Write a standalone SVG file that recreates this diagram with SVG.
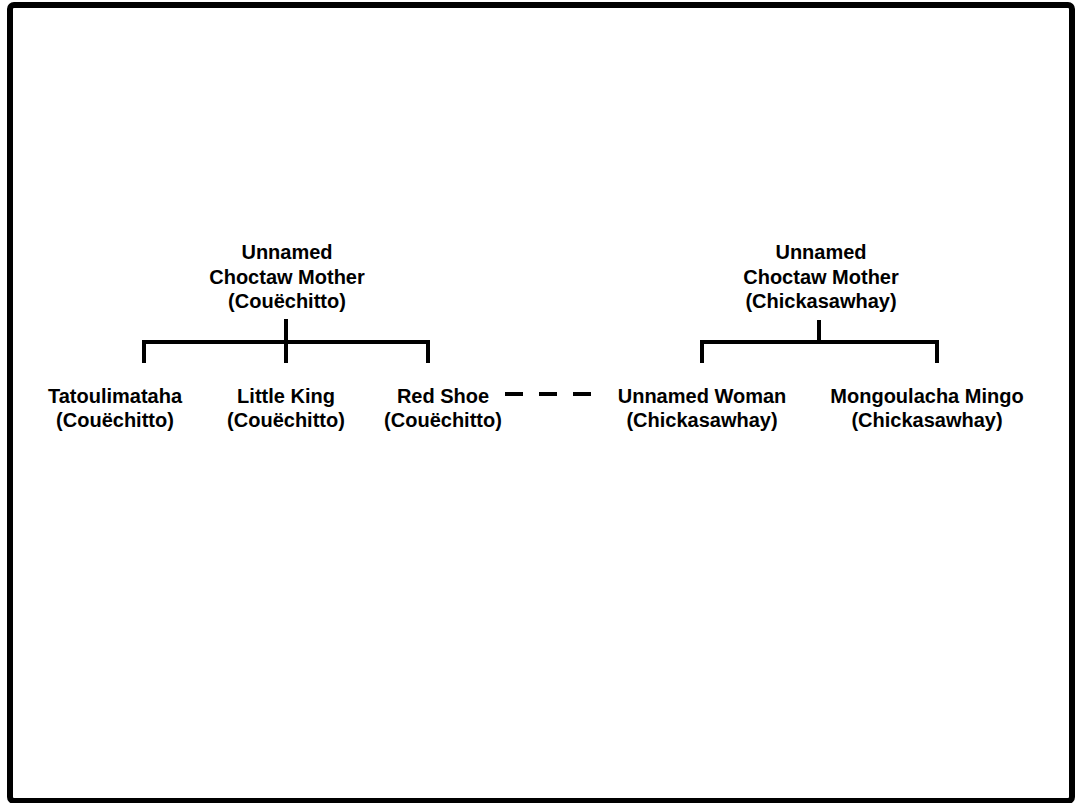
<svg xmlns="http://www.w3.org/2000/svg" width="1075" height="803" viewBox="0 0 1075 803">
<style>
text{font-family:"Liberation Sans",Arial,Helvetica,sans-serif;font-weight:bold;font-size:20px;fill:#000;text-anchor:middle}
.ln{fill:none;stroke:#000;stroke-width:4;stroke-linejoin:miter;stroke-linecap:butt}
.dash{fill:none;stroke:#000;stroke-width:4;stroke-dasharray:18 16}
</style>
<rect x="0" y="0" width="1075" height="803" fill="#fff"/>
<rect x="10" y="5" width="1062" height="796" rx="4" fill="#fff" stroke="#000" stroke-width="6"/>
<g id="connectors">
<path class="ln" d="M144,363 V342 H428 V363 M286,319 V363"/>
<path class="ln" d="M702,363 V342 H937 V363 M819,320 V342"/>
<path class="dash" d="M505,394 H591"/>
</g>
<g id="mother-couechitto">
<text x="287" y="259">Unnamed</text>
<text x="287" y="284">Choctaw Mother</text>
<text x="287" y="308">(Couëchitto)</text>
</g>
<g id="mother-chickasawhay">
<text x="821" y="259">Unnamed</text>
<text x="821" y="284">Choctaw Mother</text>
<text x="821" y="308">(Chickasawhay)</text>
</g>
<g id="tatoulimataha">
<text x="115" y="403">Tatoulimataha</text>
<text x="115" y="427">(Couëchitto)</text>
</g>
<g id="little-king">
<text x="286" y="403">Little King</text>
<text x="286" y="427">(Couëchitto)</text>
</g>
<g id="red-shoe">
<text x="443" y="403">Red Shoe</text>
<text x="443" y="427">(Couëchitto)</text>
</g>
<g id="unnamed-woman">
<text x="702" y="403">Unnamed Woman</text>
<text x="702" y="427">(Chickasawhay)</text>
</g>
<g id="mongoulacha-mingo">
<text x="927" y="403">Mongoulacha Mingo</text>
<text x="927" y="427">(Chickasawhay)</text>
</g>
</svg>
